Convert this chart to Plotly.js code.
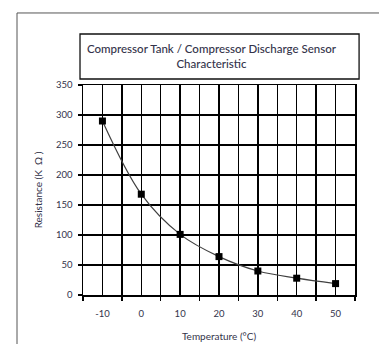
<!DOCTYPE html>
<html>
<head>
<meta charset="utf-8">
<script src="https://cdn.plot.ly/plotly-3.0.1.min.js"></script>
<style>html,body{margin:0;padding:0;background:#fff;}#chart{width:379px;height:344px;}</style>
</head>
<body>
<div id="chart"></div>
<script>
var temperatures = [-10, 0, 10, 20, 30, 40, 50];
var resistances = [290, 168, 101, 64, 40, 28, 19];
var xTickLabels = ['-10', '0', '10', '20', '30', '40', '50'];
var yTickValues = [0, 50, 100, 150, 200, 250, 300, 350];

var FONT = 'Lato, "Open Sans", sans-serif';
var TXT = '#33334a';

var traces = [
  {
    x: temperatures, y: resistances, type: 'scatter', mode: 'lines+markers',
    line: {shape: 'spline', color: '#404040', width: 1.2},
    marker: {symbol: 'square', size: 7, color: '#000'},
    xaxis: 'x', yaxis: 'y', hoverinfo: 'skip', showlegend: false
  },
  {
    x: temperatures, y: resistances, type: 'scatter', mode: 'markers',
    marker: {size: 1, color: 'rgba(0,0,0,0)'},
    xaxis: 'x2', yaxis: 'y', hoverinfo: 'skip', showlegend: false
  }
];

var layout = {
  width: 379, height: 344,
  margin: {l: 83, r: 24, t: 85, b: 49},
  paper_bgcolor: '#fff', plot_bgcolor: '#fff',
  font: {family: FONT, color: TXT, size: 9},
  title: {
    text: 'Compressor Tank / Compressor Discharge Sensor<br>Characteristic',
    font: {family: FONT, size: 11.5, color: TXT, weight: 500},
    xref: 'container', yref: 'container', x: 0.558, y: 1 - 53/344,
    xanchor: 'center', yanchor: 'middle'
  },
  xaxis: {
    range: [-15, 55], tickmode: 'linear', tick0: -15, dtick: 10,
    ticks: 'outside', ticklen: 4, tickcolor: '#000', tickwidth: 1.3,
    showticklabels: false,
    showgrid: true, gridcolor: '#000', gridwidth: 1.3,
    minor: {tick0: -15, dtick: 5, showgrid: true, gridcolor: '#000', gridwidth: 1.3, ticks: ''},
    showline: true, mirror: true, linecolor: '#000', linewidth: 1.5,
    zeroline: false, fixedrange: true
  },
  xaxis2: {
    overlaying: 'x', anchor: 'y', side: 'bottom', range: [-15, 55],
    tickmode: 'array', tickvals: temperatures, ticktext: xTickLabels,
    ticks: 'outside', ticklen: 10, tickcolor: 'rgba(0,0,0,0)',
    showgrid: false, showline: false, zeroline: false,
    tickfont: {family: FONT, size: 9.5, color: TXT},
    title: {text: 'Temperature (°C)', font: {family: FONT, size: 10, color: TXT}, standoff: 14}
  },
  yaxis: {
    range: [0, 350], tickmode: 'array', tickvals: yTickValues,
    ticks: 'outside', ticklen: 4, tickcolor: '#000', tickwidth: 1.3,
    ticklabelstandoff: 3,
    showgrid: true, gridcolor: '#000', gridwidth: 1.3,
    showline: true, mirror: true, linecolor: '#000', linewidth: 1.5,
    zeroline: false, fixedrange: true,
    tickfont: {family: FONT, size: 9.5, color: TXT},
    title: {text: 'Resistance (K  Ω )', font: {family: FONT, size: 10, color: TXT}, standoff: 11}
  },
  shapes: [
    {type: 'rect', xref: 'paper', yref: 'paper', x0: -0.2426, x1: 1.2, y0: -0.3, y1: 1.343,
     line: {color: '#555', width: 1}, fillcolor: 'rgba(0,0,0,0)', layer: 'below'},
    {type: 'rect', xref: 'paper', yref: 'paper', x0: -0.011, x1: 1.015, y0: 1.0286, y1: 1.2429,
     line: {color: '#111', width: 1.3}, fillcolor: 'rgba(0,0,0,0)'}
  ]
};

Plotly.newPlot('chart', traces, layout, {staticPlot: true, displayModeBar: false});
</script>
</body>
</html>
